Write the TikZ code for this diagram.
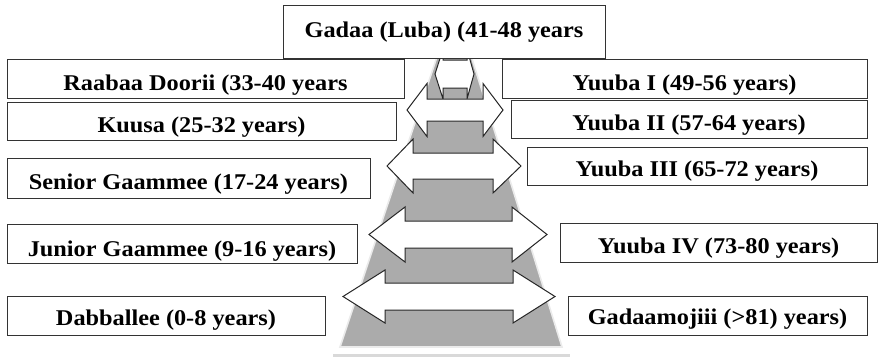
\documentclass[tikz,border=0pt]{standalone}
\usepackage{fontspec}
\setmainfont{Liberation Serif}[FakeStretch=1.08]
\begin{document}
\begin{tikzpicture}[x=1pt,y=-1pt,
  box/.style={draw=black!80,line width=1pt,fill=white,inner sep=0pt,outer sep=0pt},
  lbl/.style={inner sep=0pt,anchor=base,font=\fontsize{22.5}{26}\selectfont\bfseries},
  arrowshape/.style={draw=black!85,line width=1pt,fill=white,line join=miter},
  pyr/.style={fill=black!33,draw=black!8,line width=1.6pt}]
\useasboundingbox (0,0) rectangle (878,359);

% pyramid behind the arrows
\draw[pyr] (340,347) -- (446,30) -- (463,30) -- (562,347) -- cycle;
\draw[black!15,line width=3pt] (333,355) -- (570,355);

% double arrows: left tip x, left head back x, right head back x, right tip x,
% mid y, head half height, shaft half height
\newcommand\balarrow[7]{%
  \draw[arrowshape] (#1,#5) -- (#2,#5-#6) -- (#2,#5-#7) -- (#3,#5-#7) -- (#3,#5-#6)
    -- (#4,#5) -- (#3,#5+#6) -- (#3,#5+#7) -- (#2,#5+#7) -- (#2,#5+#6) -- cycle;}
\balarrow{435}{443}{467}{474}{74}{25}{14}
\balarrow{407}{427}{483}{503}{110}{26.5}{11}
\balarrow{387}{413}{493}{521}{166}{27}{13}
\balarrow{369}{405}{512}{547}{234.5}{27.5}{13.5}
\balarrow{343}{385}{513}{555}{296.5}{26.5}{13.5}

% age-grade boxes
\node[box,minimum width=322,minimum height=53] (gadaa) at (444,31.5) {};
\node[box,minimum width=397,minimum height=39] (raabaa) at (205.5,78.5) {};
\node[box,minimum width=389,minimum height=38] (kuusa) at (201.5,121) {};
\node[box,minimum width=363,minimum height=40] (senior) at (188.5,178) {};
\node[box,minimum width=350,minimum height=39] (junior) at (182,243.5) {};
\node[box,minimum width=318,minimum height=39] (dabb) at (166,315.5) {};
\node[box,minimum width=365,minimum height=39] (yone) at (684.5,78.5) {};
\node[box,minimum width=356,minimum height=38] (ytwo) at (689,119) {};
\node[box,minimum width=340,minimum height=38] (ythree) at (697,166) {};
\node[box,minimum width=317,minimum height=39] (yfour) at (718.5,242.5) {};
\node[box,minimum width=299,minimum height=39] (gmoj) at (717.5,315.5) {};

% labels
\node[lbl] (gadaat) at (444,37) {Gadaa (Luba) (41-48 years};
\node[lbl] (raabaat) at (205.5,90) {Raabaa Doorii (33-40 years};
\node[lbl] (kuusat) at (201.5,132) {Kuusa (25-32 years)};
\node[lbl] (seniort) at (188.5,189) {Senior Gaammee (17-24 years)};
\node[lbl] (juniort) at (182,256) {Junior Gaammee (9-16 years)};
\node[lbl] (dabbt) at (166,325) {Dabballee (0-8 years)};
\node[lbl] (yonet) at (684.5,90) {Yuuba I (49-56 years)};
\node[lbl] (ytwot) at (689,130) {Yuuba II (57-64 years)};
\node[lbl] (ythreet) at (697,176) {Yuuba III (65-72 years)};
\node[lbl] (yfourt) at (718.5,253) {Yuuba IV (73-80 years)};
\node[lbl] (gmojt) at (717.5,324) {Gadaamojiii (>81) years)};
\end{tikzpicture}
\end{document}
